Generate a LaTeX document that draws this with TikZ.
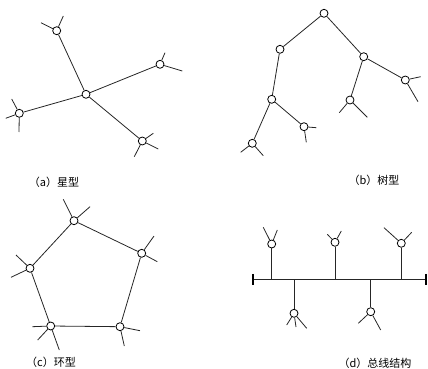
\documentclass[tikz,border=0pt]{standalone}
\usepackage{fontspec}
\newfontfamily\cjk{Noto Sans CJK SC}
\begin{document}
\begin{tikzpicture}[x=1pt,y=-1pt,
  st/.style={circle,draw,fill=white,inner sep=0pt,minimum size=8pt,line width=0.8pt},
  ln/.style={line width=0.8pt,draw=black!85},
  lbl/.style={font=\cjk\fontsize{11}{13}\selectfont,inner sep=0pt},
  busend/.style={line width=2pt}]
\useasboundingbox (0,0) rectangle (428,369);
% ---------- (a) star ----------
\node[st] (c) at (86,94.3) {};
\node[st] (s1) at (56.7,30.7) {};
\node[st] (s2) at (160,64.3) {};
\node[st] (s3) at (19.3,113.3) {};
\node[st] (s4) at (142.3,141) {};
\coordinate (s1a) at (41,22.7); \coordinate (s1b) at (63.3,16);
\coordinate (s2a) at (165,52.7); \coordinate (s2b) at (182.3,71);
\coordinate (s3a) at (11.7,99); \coordinate (s3b) at (5.7,118.3); \coordinate (s3c) at (19,132);
\coordinate (s4a) at (153.3,133.3); \coordinate (s4b) at (158.3,149); \coordinate (s4c) at (134.3,156.7);
\draw[ln] (c) -- (s1) (c) -- (s2) (c) -- (s3) (c) -- (s4);
\draw[ln] (s1) -- (s1a) (s1) -- (s1b) (s2) -- (s2a) (s2) -- (s2b)
  (s3) -- (s3a) (s3) -- (s3b) (s3) -- (s3c)
  (s4) -- (s4a) (s4) -- (s4b) (s4) -- (s4c);
\node[lbl] (la) at (54,182) {（a）星型};
% ---------- (b) tree ----------
\node[st] (r) at (324,13.3) {};
\node[st] (t1) at (280,49.3) {};
\node[st] (t2) at (363.7,56.7) {};
\node[st] (t11) at (271.7,99.3) {};
\node[st] (t111) at (252.3,143.3) {};
\node[st] (t112) at (304,126.7) {};
\node[st] (t21) at (350,100) {};
\node[st] (t22) at (405.3,80) {};
\draw[ln] (r) -- (t1) (r) -- (t2) (t1) -- (t11) (t11) -- (t111) (t11) -- (t112)
  (t2) -- (t21) (t2) -- (t22);
\coordinate (t111a) at (240.7,152.3); \coordinate (t111b) at (263.3,155.7);
\coordinate (t112a) at (316.3,127.7); \coordinate (t112b) at (306.3,142.3);
\coordinate (t21a) at (339.3,112.7); \coordinate (t21b) at (367.3,117.3);
\coordinate (t22a) at (420.7,76.7); \coordinate (t22b) at (418,101.7);
\draw[ln] (t111) -- (t111a) (t111) -- (t111b) (t112) -- (t112a) (t112) -- (t112b)
  (t21) -- (t21a) (t21) -- (t21b) (t22) -- (t22a) (t22) -- (t22b);
\node[lbl] (lb) at (374,180) {（b）树型};
% ---------- (c) ring ----------
\node[st] (p1) at (74,220.7) {};
\node[st] (p2) at (141.7,253.3) {};
\node[st] (p3) at (120,326.7) {};
\node[st] (p4) at (50.7,326) {};
\node[st] (p5) at (30,268.3) {};
\draw[ln] (p1) -- (p2) -- (p3) -- (p4) -- (p5) -- (p1);
\coordinate (p1a) at (63.3,199.3); \coordinate (p1b) at (90,206.7);
\coordinate (p2a) at (154,236); \coordinate (p2b) at (157.3,261.7);
\coordinate (p3a) at (140,330.7); \coordinate (p3b) at (124.3,346);
\coordinate (p4a) at (32.3,326.7); \coordinate (p4b) at (37.7,340); \coordinate (p4c) at (59.3,350);
\coordinate (p5a) at (16,255); \coordinate (p5b) at (11,277.3);
\draw[ln] (p1) -- (p1a) (p1) -- (p1b) (p2) -- (p2a) (p2) -- (p2b)
  (p3) -- (p3a) (p3) -- (p3b) (p4) -- (p4a) (p4) -- (p4b) (p4) -- (p4c)
  (p5) -- (p5a) (p5) -- (p5b);
\node[lbl] (lc) at (51,362) {（c）环型};
% ---------- (d) bus ----------
\coordinate (bl) at (253.3,279.3); \coordinate (br) at (426,279.3);
\coordinate (blt) at (253.3,273.8); \coordinate (blb) at (253.3,284.8);
\coordinate (brt) at (426,273.8); \coordinate (brb) at (426,284.8);
\draw[ln] (bl) -- (br);
\draw[busend] (blt) -- (blb) (brt) -- (brb);
\coordinate (j1) at (271.7,279.3); \coordinate (j2) at (335,279.3); \coordinate (j3) at (401.3,279.3);
\coordinate (j4) at (294,279.3); \coordinate (j5) at (370.7,279.3);
\node[st] (b1) at (271.7,244) {};
\node[st] (b2) at (335,242.3) {};
\node[st] (b3) at (401.3,243.3) {};
\node[st] (b4) at (294,313.3) {};
\node[st] (b5) at (370.7,311.7) {};
\draw[ln] (j1) -- (b1) (j2) -- (b2) (j3) -- (b3) (j4) -- (b4) (j5) -- (b5);
\coordinate (b1a) at (263.3,227.3); \coordinate (b1b) at (277.3,230);
\coordinate (b2a) at (327.3,234.3); \coordinate (b2b) at (341.3,231);
\coordinate (b3a) at (384,227.7); \coordinate (b3b) at (411.7,232.3);
\coordinate (b4a) at (286.7,325); \coordinate (b4b) at (296,327); \coordinate (b4c) at (306.7,328.3);
\coordinate (b5a) at (358.3,323.3); \coordinate (b5b) at (380.7,330);
\draw[ln] (b1) -- (b1a) (b1) -- (b1b) (b2) -- (b2a) (b2) -- (b2b)
  (b3) -- (b3a) (b3) -- (b3b) (b4) -- (b4a) (b4) -- (b4b) (b4) -- (b4c)
  (b5) -- (b5a) (b5) -- (b5b);
\node[lbl] (ld) at (375,363) {（d）总线结构};
\end{tikzpicture}
\end{document}
